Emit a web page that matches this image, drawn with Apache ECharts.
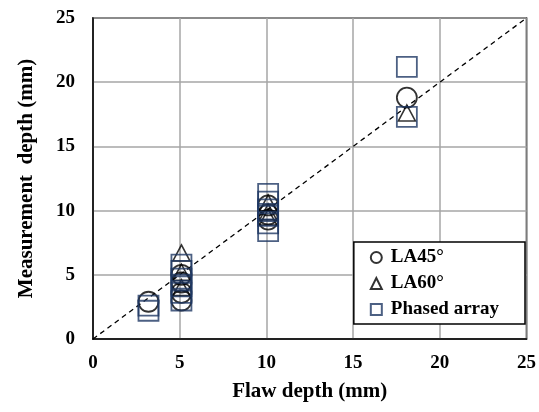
<!DOCTYPE html>
<html>
<head>
<meta charset="utf-8">
<script src="https://cdn.jsdelivr.net/npm/echarts@6/dist/echarts.min.js"></script>
<style>
  html, body { margin: 0; padding: 0; background: #fff; }
  #chart { width: 539px; height: 412px; }
</style>
</head>
<body>
<div id="chart"></div>
<script>
// flaw depth (x) and measured depth (y) per method
var la45X = [3.2, 5.1, 5.1, 5.1, 5.1, 10.1, 10.1, 10.1, 18.1];
var la45Y = [2.9, 5.0, 4.4, 3.6, 3.0, 10.4, 9.7, 9.3, 18.8];

var la60X = [5.1, 5.1, 5.1, 10.1, 10.1, 10.1, 18.1];
var la60Y = [6.7, 5.2, 4.0, 10.6, 9.9, 9.5, 17.6];

var paX = [3.2, 3.2, 5.1, 5.1, 5.1, 5.1, 5.1, 5.1, 10.1, 10.1, 10.1, 10.1, 10.1, 10.1, 18.1, 18.1];
var paY = [2.6, 2.2, 5.8, 5.3, 4.7, 4.1, 3.6, 3.0, 11.3, 10.7, 10.1, 9.6, 9.0, 8.4, 21.2, 17.3];

var refLine = [[0, 0], [25, 25]];
var ticks = [0, 5, 10, 15, 20, 25];

function pairs(xs, ys) {
    return xs.map(function (x, i) { return [x, ys[i]]; });
}

var font = '"Liberation Serif", "Times New Roman", serif';
var navy = '#1f3864';
var chart = echarts.init(document.getElementById('chart'));

var option = {
    backgroundColor: '#fff',
    animation: false,
    textStyle: { fontFamily: font },
    grid: {
        left: 93, right: 12, top: 18, bottom: 73,
        show: true, borderColor: '#000', borderWidth: 1.5
    },
    legend: {
        right: 14, top: 242,
        orient: 'vertical',
        backgroundColor: '#fff',
        borderColor: '#000', borderWidth: 1.5,
        padding: [6, 26, 5, 16],
        itemGap: 7,
        itemWidth: 11, itemHeight: 11,
        textStyle: { fontFamily: font, fontWeight: 'bold', fontSize: 19, color: '#000', padding: [0, 0, 0, 4] },
        data: ['LA45°', 'LA60°', 'Phased array']
    },
    xAxis: {
        type: 'value', min: ticks[0], max: ticks[ticks.length - 1], interval: 5,
        name: 'Flaw depth (mm)', nameLocation: 'middle', nameGap: 42,
        nameTextStyle: { fontFamily: font, fontWeight: 'bold', fontSize: 21, color: '#000' },
        axisLine: { lineStyle: { color: '#000', width: 1.5 } },
        axisTick: { show: false },
        axisLabel: { fontFamily: font, fontWeight: 'bold', fontSize: 19, color: '#000', margin: 15 },
        splitLine: { lineStyle: { color: '#a6a6a6', width: 1.5 } }
    },
    yAxis: {
        type: 'value', min: ticks[0], max: ticks[ticks.length - 1], interval: 5,
        name: 'Measurement  depth (mm)', nameLocation: 'middle', nameGap: 56,
        nameTextStyle: { fontFamily: font, fontWeight: 'bold', fontSize: 21, color: '#000' },
        axisLine: { lineStyle: { color: '#000', width: 1.5 } },
        axisTick: { show: false },
        axisLabel: { fontFamily: font, fontWeight: 'bold', fontSize: 19, color: '#000', margin: 18 },
        splitLine: { lineStyle: { color: '#a6a6a6', width: 1.5 } }
    },
    series: [
        {
            name: 'ref', type: 'line', data: refLine, showSymbol: false, silent: true,
            lineStyle: { color: '#000', width: 1.3, type: [5, 4] }, z: 1
        },
        {
            name: 'LA45°', type: 'scatter', symbol: 'circle', symbolSize: 20,
            data: pairs(la45X, la45Y),
            itemStyle: { color: 'rgba(0,0,0,0)', borderColor: '#000', borderWidth: 1.8 }
        },
        {
            name: 'LA60°', type: 'scatter', symbol: 'triangle', symbolSize: [17, 16],
            data: pairs(la60X, la60Y),
            itemStyle: { color: 'rgba(0,0,0,0)', borderColor: '#000', borderWidth: 1.6 }
        },
        {
            name: 'Phased array', type: 'scatter', symbol: 'rect', symbolSize: 20,
            data: pairs(paX, paY),
            itemStyle: { color: 'rgba(0,0,0,0)', borderColor: navy, borderWidth: 1.8 }
        }
    ]
};

chart.setOption(option);
</script>
</body>
</html>
